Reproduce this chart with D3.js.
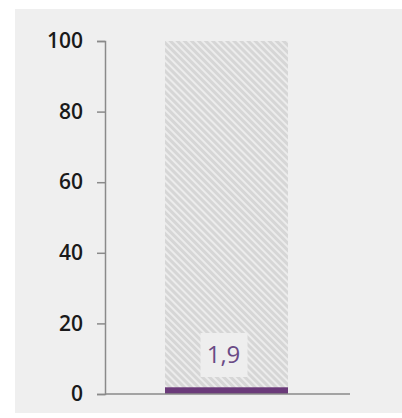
<!DOCTYPE html>
<html lang="de">
  <head>
    <meta charset="utf-8">
    <title></title>
    <script src="https://cdn.jsdelivr.net/npm/d3@7/dist/d3.min.js"></script>
    <style>
      body { margin: 0; background: #fff; }
      .axis text {
        font-family: "Open Sans", sans-serif;
        font-weight: 600;
        font-size: 21px;
        fill: #1a1a1a;
      }
      .axis path, .axis line { stroke: #8a8a8a; stroke-width: 1.5; }
    </style>
  </head>
  <body>
    <script>
      var categories = ["Anteil"];
      var values = [1.9];
      var maxValues = [100];
      var yTicks = [0, 20, 40, 60, 80, 100];
      var valueLabels = ["1,9"];

      var w = 402, h = 418;

      var svg = d3.select("body").append("svg")
                  .attr("width", w)
                  .attr("height", h);

      // panel background
      svg.append("rect")
         .attr("x", 15).attr("y", 9)
         .attr("width", w - 15).attr("height", 404)
         .attr("fill", "#efefef");

      var defs = svg.append("defs");
      var pat = defs.append("pattern")
                    .attr("id", "hatch")
                    .attr("patternUnits", "userSpaceOnUse")
                    .attr("width", 5).attr("height", 5)
                    .attr("patternTransform", "rotate(45)");
      pat.append("rect").attr("width", 5).attr("height", 5).attr("fill", "#d6d6d6");
      pat.append("rect").attr("width", 5).attr("height", 2).attr("fill", "#ececec");

      var xScale = d3.scaleBand()
                     .domain(categories)
                     .range([105, 348])
                     .paddingInner(0)
                     .paddingOuter(0.49);

      var yScale = d3.scaleLinear()
                     .domain([0, 100])
                     .range([394, 41]);

      var barW = 123;
      function barX(d) { return xScale(d) + xScale.bandwidth() / 2 - barW / 2; }

      // hatched background bar (max)
      svg.selectAll(".bg")
         .data(categories)
         .enter().append("rect")
         .attr("class", "bg")
         .attr("x", function (d) { return barX(d); })
         .attr("width", barW)
         .attr("y", function (d, i) { return yScale(maxValues[i]); })
         .attr("height", function (d, i) { return yScale(0) - yScale(maxValues[i]); })
         .attr("fill", "url(#hatch)");

      // value bar
      svg.selectAll(".val")
         .data(categories)
         .enter().append("rect")
         .attr("class", "val")
         .attr("x", function (d) { return barX(d); })
         .attr("width", barW)
         .attr("y", function (d, i) { return yScale(values[i]); })
         .attr("height", function (d, i) { return yScale(0) - yScale(values[i]); })
         .attr("fill", "#6b3a7a");

      // value label with box
      var lab = svg.selectAll(".lab")
                   .data(categories)
                   .enter().append("g")
                   .attr("class", "lab");
      lab.append("rect")
         .attr("x", function (d) { return xScale(d) + xScale.bandwidth() / 2 - 26; })
         .attr("y", 333)
         .attr("width", 47).attr("height", 44)
         .attr("fill", "#eeeeee");
      lab.append("text")
         .attr("x", function (d) { return xScale(d) + xScale.bandwidth() / 2 - 3; })
         .attr("y", 363)
         .attr("text-anchor", "middle")
         .attr("font-family", "'Open Sans', sans-serif")
         .attr("font-size", "24px")
         .attr("fill", "#6a4a86")
         .text(function (d, i) { return valueLabels[i]; });

      var yAxis = d3.axisLeft(yScale)
                    .tickValues(yTicks)
                    .tickSize(8)
                    .tickPadding(14)
                    .tickSizeOuter(8);
      svg.append("g")
         .attr("class", "axis")
         .attr("transform", "translate(105,0)")
         .call(yAxis);

      // baseline
      svg.append("line")
         .attr("x1", 105).attr("x2", 350)
         .attr("y1", yScale(0)).attr("y2", yScale(0))
         .attr("stroke", "#8a8a8a").attr("stroke-width", 1.5);
    </script>
  </body>
</html>
